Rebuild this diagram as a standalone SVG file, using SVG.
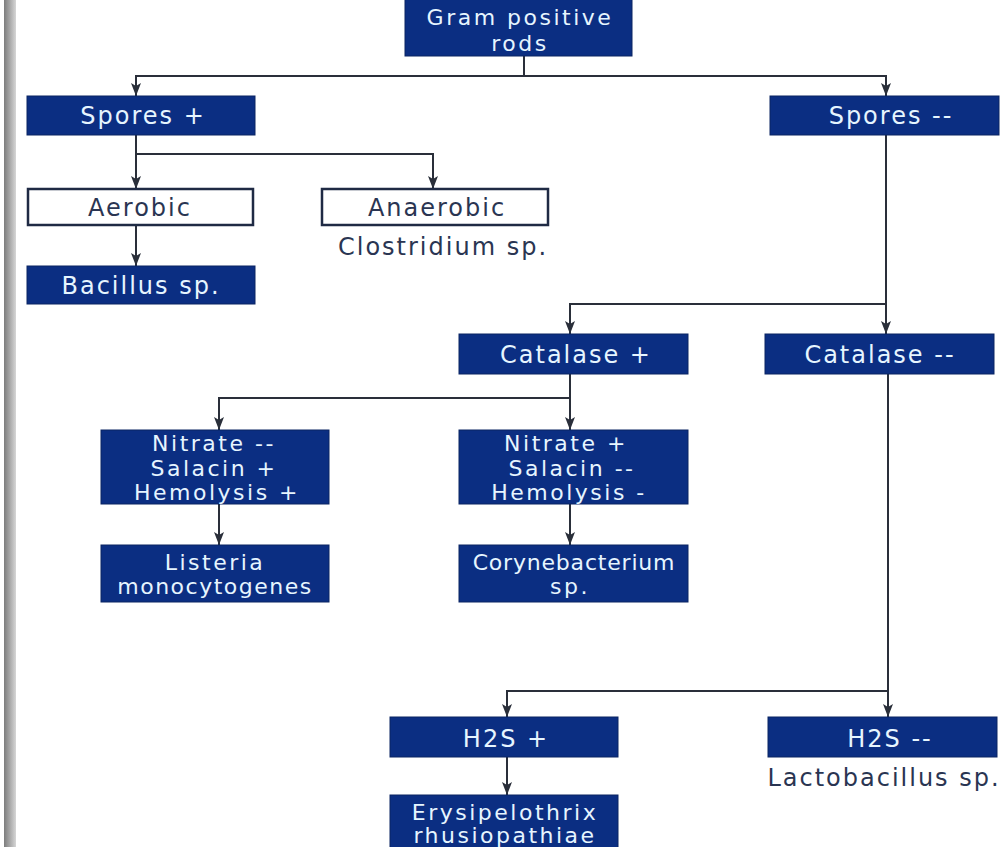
<svg xmlns="http://www.w3.org/2000/svg" width="1000" height="847" viewBox="0 0 1000 847">
<defs>
<linearGradient id="bar" x1="0" y1="0" x2="1" y2="0">
<stop offset="0" stop-color="#7d7d7d"/>
<stop offset="0.5" stop-color="#a9a9a9"/>
<stop offset="1" stop-color="#d6d6d6"/>
</linearGradient>
<marker id="arr" markerUnits="userSpaceOnUse" markerWidth="14" markerHeight="12" refX="13" refY="5" orient="auto" viewBox="0 0 14 10">
<path d="M0,0 L13,5 L0,10 L3,5 z" fill="#2a2f3a"/>
</marker>
<style>
.nb{fill:#0b2e82;stroke:#0a2463;stroke-width:1}
.wb{fill:#ffffff;stroke:#1f2a44;stroke-width:2.5}
.t{font-family:"DejaVu Sans","Liberation Sans",sans-serif;font-size:24px;letter-spacing:2px;text-anchor:middle;fill:#e6f5ff}
.m{font-size:22px;letter-spacing:2.5px}
.d{fill:#2a3552}
.c{fill:none;stroke:#2a2f3a;stroke-width:2;marker-end:url(#arr)}
.l{fill:none;stroke:#2a2f3a;stroke-width:2}
</style>
</defs>
<rect width="1000" height="847" fill="#ffffff"/>
<rect x="4" y="0" width="12" height="847" fill="url(#bar)"/>
<g id="connectors">
<path class="l" d="M524,56 V76"/>
<path class="c" d="M524,76 H136 V96"/>
<path class="c" d="M524,76 H886 V96"/>
<path class="c" d="M136,135 V189"/>
<path class="c" d="M136,154 H433 V189"/>
<path class="c" d="M136,225 V266"/>
<path class="c" d="M886,135 V334"/>
<path class="c" d="M886,304 H570 V334"/>
<path class="c" d="M570,374 V430"/>
<path class="c" d="M570,398 H219 V430"/>
<path class="c" d="M219,504 V545"/>
<path class="c" d="M570,504 V545"/>
<path class="c" d="M888,374 V717"/>
<path class="c" d="M888,691 H507 V717"/>
<path class="c" d="M507,757 V795"/>
</g>
<g id="gram">
<rect class="nb" x="405" y="-2" width="227" height="58"/>
<text class="t m" x="520" y="25">Gram positive</text>
<text class="t m" x="520" y="51">rods</text>
</g>
<g id="spores-pos">
<rect class="nb" x="27" y="96" width="228" height="39"/>
<text class="t" x="143" y="124">Spores +</text>
</g>
<g id="spores-neg">
<rect class="nb" x="770" y="96" width="229" height="39"/>
<text class="t" x="891" y="124">Spores --</text>
</g>
<g id="aerobic">
<rect class="wb" x="28" y="189" width="225" height="36"/>
<text class="t d" x="140" y="216">Aerobic</text>
</g>
<g id="anaerobic">
<rect class="wb" x="322" y="189" width="226" height="36"/>
<text class="t d" x="437" y="216">Anaerobic</text>
<text class="t d" x="443" y="255">Clostridium sp.</text>
</g>
<g id="bacillus">
<rect class="nb" x="27" y="266" width="228" height="38"/>
<text class="t" x="141" y="294">Bacillus sp.</text>
</g>
<g id="catalase-pos">
<rect class="nb" x="459" y="334" width="229" height="40"/>
<text class="t" x="576" y="363">Catalase +</text>
</g>
<g id="catalase-neg">
<rect class="nb" x="765" y="334" width="229" height="40"/>
<text class="t" x="880" y="363">Catalase --</text>
</g>
<g id="nitrate-neg">
<rect class="nb" x="101" y="430" width="228" height="74"/>
<text class="t m" x="214" y="451">Nitrate --</text>
<text class="t m" x="214" y="476">Salacin +</text>
<text class="t m" x="217" y="500">Hemolysis +</text>
</g>
<g id="nitrate-pos">
<rect class="nb" x="459" y="430" width="229" height="74"/>
<text class="t m" x="566" y="451">Nitrate +</text>
<text class="t m" x="572" y="476">Salacin --</text>
<text class="t m" x="569" y="500">Hemolysis -</text>
</g>
<g id="listeria">
<rect class="nb" x="101" y="545" width="228" height="57"/>
<text class="t m" x="215" y="570">Listeria</text>
<text class="t m" x="215" y="594" style="letter-spacing:1.5px">monocytogenes</text>
</g>
<g id="corynebacterium">
<rect class="nb" x="459" y="545" width="229" height="57"/>
<text class="t m" x="574" y="570" style="letter-spacing:0.8px">Corynebacterium</text>
<text class="t m" x="570" y="594">sp.</text>
</g>
<g id="h2s-pos">
<rect class="nb" x="390" y="717" width="228" height="40"/>
<text class="t" x="506" y="747">H2S +</text>
</g>
<g id="h2s-neg">
<rect class="nb" x="768" y="717" width="229" height="40"/>
<text class="t" x="890" y="747">H2S --</text>
<text class="t d" x="884" y="786">Lactobacillus sp.</text>
</g>
<g id="erysipelothrix">
<rect class="nb" x="390" y="795" width="228" height="65"/>
<text class="t m" x="505" y="820">Erysipelothrix</text>
<text class="t m" x="505" y="843">rhusiopathiae</text>
</g>
</svg>
